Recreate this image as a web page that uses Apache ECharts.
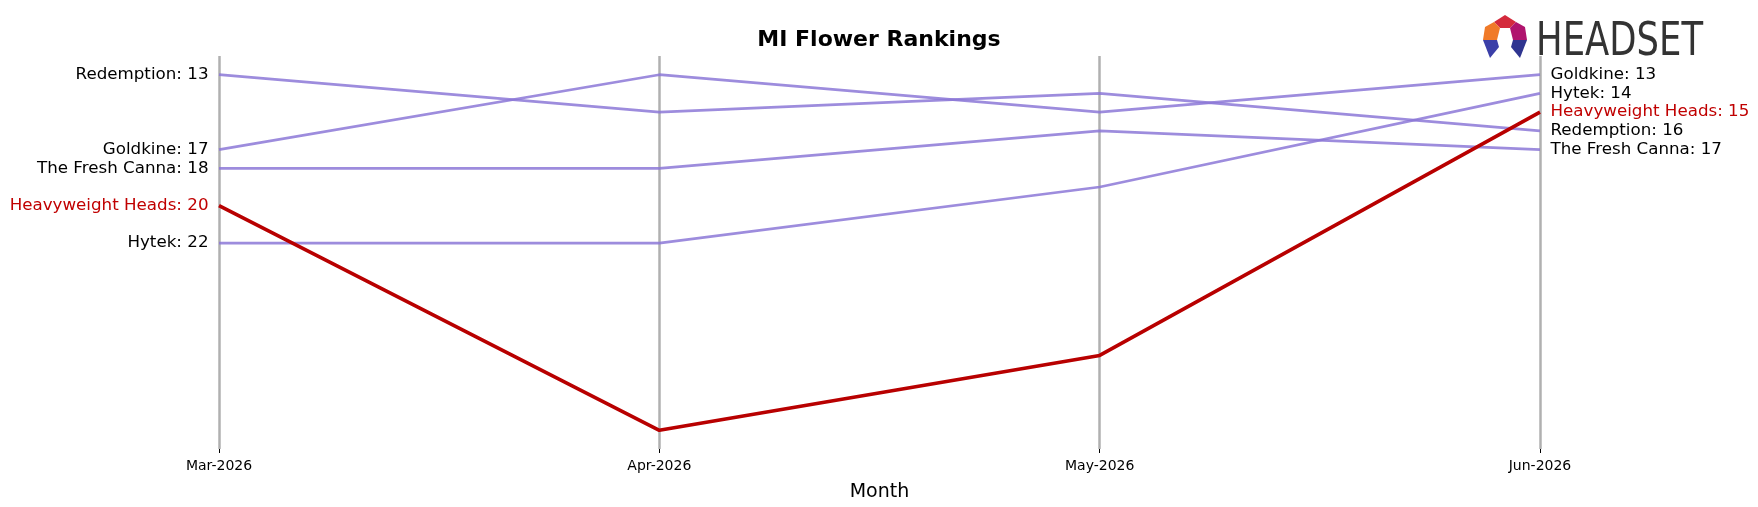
<!DOCTYPE html>
<html>
<head>
<meta charset="utf-8">
<script src="https://cdn.jsdelivr.net/npm/echarts@6/dist/echarts.min.js"></script>
<style>
  html, body { margin: 0; padding: 0; background: #fff; }
  #chart { width: 1758px; height: 507px; }
</style>
</head>
<body>
<div id="chart"></div>
<script>
const months = ['Mar-2026', 'Apr-2026', 'May-2026', 'Jun-2026']
const brands = ['Redemption', 'Goldkine', 'The Fresh Canna', 'Heavyweight Heads', 'Hytek']
const redemption = [13, 15, 14, 16]
const goldkine = [17, 13, 15, 13]
const freshCanna = [18, 18, 16, 17]
const heavyweight = [20, 32, 28, 15]
const hytek = [22, 22, 19, 14]
const rankMin = 12
const rankMax = 33

const highlight = 'Heavyweight Heads'
const purple = 'rgba(140,120,215,0.85)'
const red = '#b80000'

const allRanks = [redemption, goldkine, freshCanna, heavyweight, hytek]

function makeSeries(name, ranks) {
  const hi = name === highlight
  const last = ranks.length - 1
  return {
    name: name,
    type: 'line',
    z: hi ? 5 : 3,
    symbol: 'circle',
    symbolSize: 1,
    showSymbol: true,
    itemStyle: { color: 'transparent', borderWidth: 0 },
    lineStyle: { color: hi ? red : purple, width: hi ? 3.6 : 2.7 },
    labelLayout: { hideOverlap: false },
    data: ranks.map((v, i) => {
      const item = { value: v }
      if (i === 0 || i === last) {
        item.label = {
          show: true,
          position: i === 0 ? 'left' : 'right',
          distance: 10,
          formatter: name + ': ' + v,
          color: hi ? '#c00000' : '#000',
          fontSize: 16.7,
          fontFamily: 'DejaVu Sans'
        }
      }
      return item
    })
  }
}

const chart = echarts.init(document.getElementById('chart'))
chart.setOption({
  animation: false,
  title: {
    text: 'MI Flower Rankings',
    left: 'center',
    top: 24,
    textStyle: { fontFamily: 'DejaVu Sans', fontSize: 22, fontWeight: 'bold', color: '#000' }
  },
  grid: { left: 219, right: 218, top: 56, bottom: 57 },
  xAxis: {
    type: 'category',
    data: months,
    boundaryGap: false,
    name: 'Month',
    nameLocation: 'middle',
    nameGap: 34,
    nameTextStyle: { fontFamily: 'DejaVu Sans', fontSize: 19, color: '#000' },
    axisLine: { show: false },
    axisTick: { show: true, length: 4, lineStyle: { color: '#000', width: 1 } },
    axisLabel: { fontFamily: 'DejaVu Sans', fontSize: 14, color: '#000', margin: 10 },
    splitLine: { show: true, lineStyle: { color: '#b0b0b0', width: 2.5 } }
  },
  yAxis: {
    type: 'value',
    inverse: true,
    min: rankMin,
    max: rankMax,
    show: false,
    splitLine: { show: false }
  },
  series: brands.map((b, i) => makeSeries(b, allRanks[i])),
  graphic: [
    { type: 'polygon', shape: { points: [[1494, 22], [1505, 15], [1516, 22], [1510, 28], [1500, 28]] }, style: { fill: '#d42a3c' } },
    { type: 'polygon', shape: { points: [[1494, 22], [1500, 28], [1497, 40], [1483, 40], [1485, 27]] }, style: { fill: '#f07a28' } },
    { type: 'polygon', shape: { points: [[1516, 22], [1525, 27], [1527, 40], [1513, 40], [1510, 28]] }, style: { fill: '#b0146e' } },
    { type: 'polygon', shape: { points: [[1483, 40], [1497, 40], [1499, 47], [1490, 58]] }, style: { fill: '#3b3fa8' } },
    { type: 'polygon', shape: { points: [[1513, 40], [1527, 40], [1520, 58], [1511, 47]] }, style: { fill: '#2f3590' } },
    {
      type: 'text',
      x: 1536,
      y: 20,
      scaleX: 0.77,
      style: { text: 'HEADSET', fontFamily: 'DejaVu Sans', fontSize: 46, fill: '#333' }
    }
  ]
})
</script>
</body>
</html>
